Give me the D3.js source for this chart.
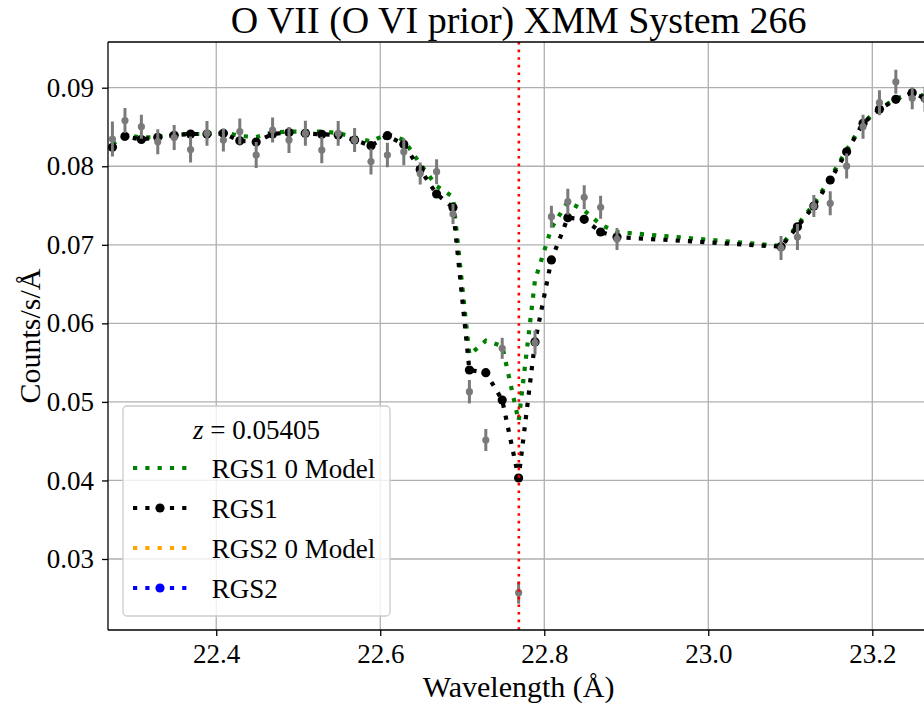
<!DOCTYPE html>
<html>
<head>
<meta charset="utf-8">
<script src="https://cdn.jsdelivr.net/npm/d3@7"></script>
<style>
  html, body { margin: 0; padding: 0; background: #ffffff; }
  svg { display: block; }
  text { font-family: "Liberation Serif", "Times New Roman", serif; fill: #000; }
</style>
</head>
<body>
<svg id="chart" width="924" height="708"></svg>
<script>
// ---------------- data ----------------
const title = "O VII (O VI prior) XMM System 266";
const xLabel = "Wavelength (Å)";
const yLabel = "Counts/s/Å";
const redshiftLabel = "0.05405";
const lineCenter = 22.769;

const xTicks = [22.4, 22.6, 22.8, 23.0, 23.2];
const yTicks = [0.03, 0.04, 0.05, 0.06, 0.07, 0.08, 0.09];

const wavelength = [
  22.2734, 22.2887, 22.3087, 22.3287, 22.3487, 22.3687, 22.3887, 22.4087, 22.4287, 22.4487,
  22.4687, 22.4887, 22.5087, 22.5287, 22.5487, 22.5687, 22.5887, 22.6087, 22.6287, 22.6487,
  22.6687, 22.6887, 22.7087, 22.7287, 22.7487, 22.7687, 22.7887, 22.8087, 22.8287, 22.8487,
  22.8687, 22.8887,
  23.0887, 23.1087, 23.1287, 23.1487, 23.1687, 23.1887, 23.2087, 23.2287, 23.2487, 23.2643
];
// "RGS1 0 Model" (green)
const rgs1ZeroModel = [
  0.08283, 0.08398, 0.08366, 0.08372, 0.08411, 0.08411, 0.08411, 0.08436, 0.08385, 0.08372,
  0.08430, 0.08442, 0.08442, 0.08442, 0.08423, 0.08366, 0.08315, 0.08411, 0.08334, 0.08029,
  0.07749, 0.07609, 0.05597, 0.05779, 0.05712, 0.04757, 0.06552, 0.07214, 0.07549, 0.07437,
  0.07256, 0.07163,
  0.06985, 0.07252, 0.07519, 0.07850, 0.08207, 0.08551, 0.08735, 0.08856, 0.08933, 0.08894
];
// "RGS1" (black, markers)
const rgs1 = [
  0.08241, 0.08381, 0.08341, 0.08369, 0.08394, 0.08411, 0.08411, 0.08419, 0.08324, 0.08309,
  0.08411, 0.08430, 0.08419, 0.08407, 0.08398, 0.08334, 0.08262, 0.08389, 0.08279, 0.07959,
  0.07647, 0.07475, 0.05406, 0.05372, 0.05024, 0.04031, 0.05763, 0.06807, 0.07345, 0.07325,
  0.07163, 0.07099,
  0.06976, 0.07230, 0.07494, 0.07825, 0.08185, 0.08547, 0.08725, 0.08852, 0.08936, 0.08865
];
// measured counts (grey error bars)
const rgs1Data = [
  0.08347, 0.08582, 0.08504, 0.08313, 0.08366, 0.08213, 0.08419, 0.08334, 0.08442, 0.08143,
  0.08461, 0.08334, 0.08419, 0.08207, 0.08419, 0.08334, 0.08060, 0.08143, 0.08185, 0.07908,
  0.07931, 0.07392, 0.05130, 0.04515, 0.05682, 0.02571, 0.05756, 0.07358, 0.07549, 0.07605,
  0.07477, 0.07074,
  0.06959, 0.07099, 0.07494, 0.07528, 0.08003, 0.08504, 0.08809, 0.09076, 0.08865, 0.08852
];
const rgs1Err = [
  0.00223, 0.00159, 0.00153, 0.00159, 0.00159, 0.00166, 0.00157, 0.00146, 0.00166, 0.00166,
  0.00159, 0.00166, 0.00159, 0.00169, 0.00157, 0.00153, 0.00166, 0.00157, 0.00172, 0.00140,
  0.00159, 0.00127, 0.00149, 0.00140, 0.00134, 0.00140, 0.00153, 0.00140, 0.00166, 0.00153,
  0.00146, 0.00140,
  0.00153, 0.00166, 0.00140, 0.00153, 0.00159, 0.00153, 0.00159, 0.00153, 0.00140, 0.00159
];

const legendItems = [
  { label: "RGS1 0 Model", color: "#008000", marker: false },
  { label: "RGS1", color: "#000000", marker: true },
  { label: "RGS2 0 Model", color: "#ffa500", marker: false },
  { label: "RGS2", color: "#0000ff", marker: true }
];

// ---------------- layout ----------------
const W = 924, H = 708;
const plot = { left: 108, right: 929.3, top: 42, bottom: 630 };

const svg = d3.select("#chart");
svg.append("rect").attr("width", W).attr("height", H).attr("fill", "#fff");

const x = d3.scaleLinear().domain([22.268, 23.2695]).range([plot.left, plot.right]);
const y = d3.scaleLinear().domain([0.02096, 0.09582]).range([plot.bottom, plot.top]);

svg.append("defs").append("clipPath").attr("id", "clip")
  .append("rect")
  .attr("x", plot.left).attr("y", plot.top)
  .attr("width", plot.right - plot.left).attr("height", plot.bottom - plot.top);

// grid
const grid = svg.append("g");
grid.selectAll(".gx").data(xTicks).enter().append("line")
  .attr("x1", d => x(d)).attr("x2", d => x(d))
  .attr("y1", plot.top).attr("y2", plot.bottom)
  .attr("stroke", "#b0b0b0").attr("stroke-width", 1.3);
grid.selectAll(".gy").data(yTicks).enter().append("line")
  .attr("x1", plot.left).attr("x2", plot.right)
  .attr("y1", d => y(d)).attr("y2", d => y(d))
  .attr("stroke", "#b0b0b0").attr("stroke-width", 1.3);

const pts = wavelength.map((w, i) => ({
  w, model0: rgs1ZeroModel[i], fit: rgs1[i], data: rgs1Data[i], err: rgs1Err[i]
}));

const content = svg.append("g").attr("clip-path", "url(#clip)");

const line = key => d3.line().x(d => x(d.w)).y(d => y(d[key]));

// green zero model
content.append("path").datum(pts)
  .attr("d", line("model0"))
  .attr("fill", "none").attr("stroke", "#008000")
  .attr("stroke-width", 4.2).attr("stroke-dasharray", "4.2 8.1");

// black RGS1 line + markers
content.append("path").datum(pts)
  .attr("d", line("fit"))
  .attr("fill", "none").attr("stroke", "#000")
  .attr("stroke-width", 4.2).attr("stroke-dasharray", "4.2 8.1");
content.selectAll(".fitpt").data(pts).enter().append("circle")
  .attr("cx", d => x(d.w)).attr("cy", d => y(d.fit)).attr("r", 4.6)
  .attr("fill", "#000");

// grey data error bars
const eb = content.append("g");
eb.selectAll(".bar").data(pts).enter().append("line")
  .attr("x1", d => x(d.w)).attr("x2", d => x(d.w))
  .attr("y1", d => y(d.data - d.err)).attr("y2", d => y(d.data + d.err))
  .attr("stroke", "#7a7a7a").attr("stroke-width", 3);
eb.selectAll(".pt").data(pts).enter().append("circle")
  .attr("cx", d => x(d.w)).attr("cy", d => y(d.data)).attr("r", 3.6)
  .attr("fill", "#7a7a7a");

// red line centre
content.append("line")
  .attr("x1", x(lineCenter)).attr("x2", x(lineCenter))
  .attr("y1", plot.top).attr("y2", plot.bottom)
  .attr("stroke", "#ff0000").attr("stroke-width", 2.6)
  .attr("stroke-dasharray", "2.6 5");

// axes
const xAxis = svg.append("g").attr("transform", `translate(0,${plot.bottom})`)
  .call(d3.axisBottom(x).tickValues(xTicks).tickFormat(d3.format(".1f")).tickSizeInner(6).tickSizeOuter(0).tickPadding(8));
const yAxis = svg.append("g").attr("transform", `translate(${plot.left},0)`)
  .call(d3.axisLeft(y).tickValues(yTicks).tickFormat(d3.format(".2f")).tickSizeInner(6).tickSizeOuter(0).tickPadding(8));
[xAxis, yAxis].forEach(a => {
  a.select(".domain").remove();
  a.selectAll(".tick line").attr("stroke", "#000").attr("stroke-width", 1.3);
  a.selectAll(".tick text").attr("font-size", 27).attr("fill", "#000")
    .style("font-family", "'Liberation Serif', 'Times New Roman', serif");
});

// spines (left, top, bottom; right is outside the picture)
svg.append("line").attr("x1", plot.left).attr("x2", plot.left).attr("y1", plot.top).attr("y2", plot.bottom)
  .attr("stroke", "#000").attr("stroke-width", 1.3);
svg.append("line").attr("x1", plot.left).attr("x2", plot.right).attr("y1", plot.top).attr("y2", plot.top)
  .attr("stroke", "#000").attr("stroke-width", 1.3);
svg.append("line").attr("x1", plot.left).attr("x2", plot.right).attr("y1", plot.bottom).attr("y2", plot.bottom)
  .attr("stroke", "#000").attr("stroke-width", 1.3);
svg.append("line").attr("x1", plot.right).attr("x2", plot.right).attr("y1", plot.top).attr("y2", plot.bottom)
  .attr("stroke", "#000").attr("stroke-width", 1.3);

// title & labels
svg.append("text").attr("x", (plot.left + plot.right) / 2).attr("y", 33)
  .attr("text-anchor", "middle").attr("font-size", 38).text(title);
svg.append("text").attr("x", (plot.left + plot.right) / 2).attr("y", 697)
  .attr("text-anchor", "middle").attr("font-size", 30).text(xLabel);
svg.append("text").attr("transform", `translate(40,${(plot.top + plot.bottom) / 2}) rotate(-90)`)
  .attr("text-anchor", "middle").attr("font-size", 30).text(yLabel);

// legend
const lg = svg.append("g");
lg.append("rect").attr("x", 123).attr("y", 406).attr("width", 267).attr("height", 210)
  .attr("rx", 4).attr("fill", "#fff").attr("fill-opacity", 0.8)
  .attr("stroke", "#cccccc").attr("stroke-width", 1.3);
const lt = lg.append("text").attr("x", 256.5).attr("y", 439).attr("text-anchor", "middle").attr("font-size", 27);
lt.append("tspan").attr("font-style", "italic").text("z");
lt.append("tspan").text(" = " + redshiftLabel);
legendItems.forEach((it, i) => {
  const cy = 468 + i * 40;
  lg.append("line").attr("x1", 133).attr("x2", 187).attr("y1", cy).attr("y2", cy)
    .attr("stroke", it.color).attr("stroke-width", 4.2).attr("stroke-dasharray", "4.2 8.1");
  if (it.marker) lg.append("circle").attr("cx", 160).attr("cy", cy).attr("r", 4.6).attr("fill", it.color);
  lg.append("text").attr("x", 211.7).attr("y", cy + 9.5).attr("font-size", 27).text(it.label);
});
</script>
</body>
</html>
